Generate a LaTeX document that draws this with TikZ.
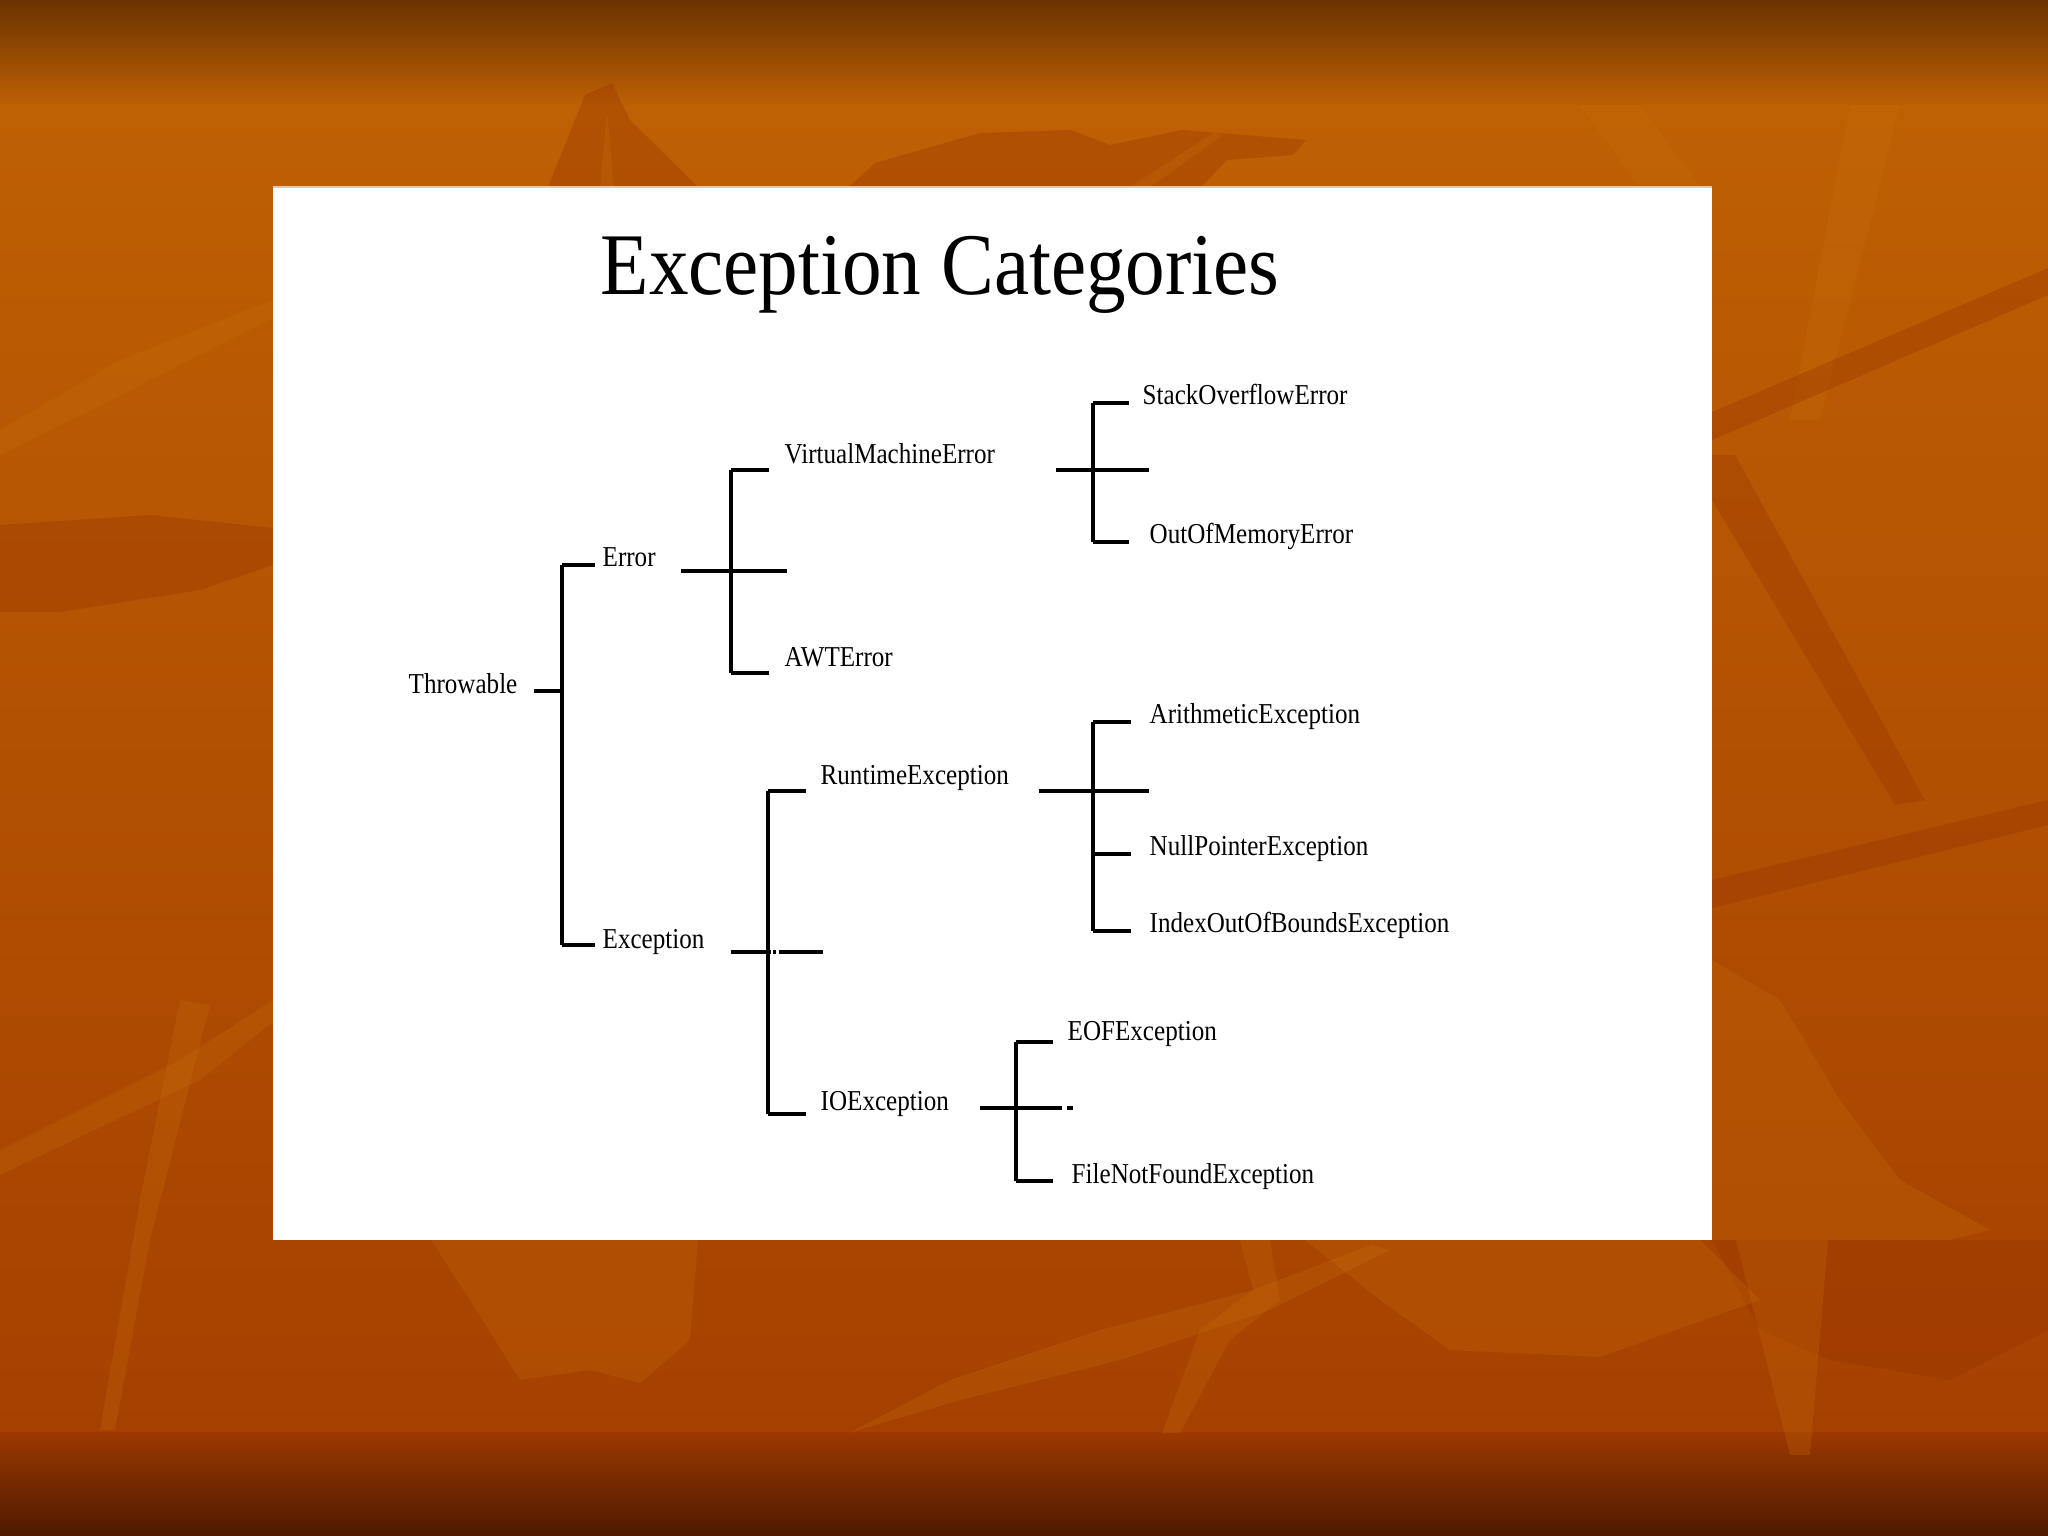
\documentclass[tikz,border=0pt]{standalone}
\usepackage{fontspec}
\setmainfont{Liberation Serif}
\definecolor{bgtop}{RGB}{106,52,0}
\definecolor{bgor}{RGB}{190,96,4}
\definecolor{bglow}{RGB}{166,64,0}
\definecolor{bgband}{RGB}{156,56,0}
\definecolor{bgbot}{RGB}{78,26,0}
\definecolor{leafdark}{RGB}{150,50,0}
\definecolor{leaflight}{RGB}{200,112,12}
\definecolor{panelrim}{RGB}{240,196,150}
\newcommand\sxlbl[1]{\scalebox{0.87}[1]{#1}}
\tikzset{
  ln/.style={line width=0.9pt, black},
  lbl/.style={anchor=base west, inner sep=0pt, font=\fontsize{8.2}{9}\selectfont},
  darkleaf/.style={fill=leafdark, fill opacity=0.32},
  lightleaf/.style={fill=leaflight, fill opacity=0.25}
}
\begin{document}
\begin{tikzpicture}[x=0.01cm, y=-0.01cm]
\useasboundingbox (0,0) rectangle (2048,1536);
% ---------- background ----------
\fill[top color=bgtop, bottom color=bgor] (0,0) rectangle (2048,106);
\fill[top color=bgor, bottom color=bglow] (0,105) rectangle (2048,1433);
\fill[top color=bgband, bottom color=bgbot] (0,1432) rectangle (2048,1536);
% leaves and branches (approximate)
\fill[darkleaf] (0,525) -- (150,515) -- (273,528) -- (273,565) -- (200,590) -- (60,612) -- (0,612) -- cycle;
\fill[lightleaf] (0,430) -- (120,360) -- (273,300) -- (273,318) -- (140,385) -- (0,455) -- cycle;
\fill[darkleaf] (548,187) -- (585,95) -- (612,83) -- (630,120) -- (698,187) -- cycle;
\fill[lightleaf] (600,187) -- (607,110) -- (614,187) -- cycle;
\fill[darkleaf] (849,187) -- (875,163) -- (980,133) -- (1071,130) -- (1110,145) -- (1182,130) -- (1306,140) -- (1293,155) -- (1227,160) -- (1201,187) -- cycle;
\fill[lightleaf] (1130,187) -- (1215,132) -- (1222,136) -- (1150,187) -- cycle;
\fill[lightleaf] (1580,105) -- (1640,105) -- (1700,187) -- (1640,187) -- cycle;
\fill[lightleaf] (1850,105) -- (1900,105) -- (1820,420) -- (1790,420) -- cycle;
\fill[darkleaf] (1712,455) -- (1735,455) -- (1925,800) -- (1895,805) -- (1712,500) -- cycle;
\fill[darkleaf] (1712,412) -- (2048,268) -- (2048,295) -- (1712,440) -- cycle;
\fill[darkleaf] (1712,880) -- (2048,800) -- (2048,825) -- (1712,908) -- cycle;
\fill[lightleaf] (1712,960) -- (1780,1000) -- (1840,1100) -- (1900,1180) -- (1990,1230) -- (1950,1240) -- (1712,1240) -- cycle;
\fill[darkleaf] (1712,1240) -- (2048,1240) -- (2048,1330) -- (1950,1380) -- (1830,1360) -- (1760,1330) -- cycle;
\fill[lightleaf] (0,1150) -- (180,1060) -- (273,1000) -- (273,1022) -- (200,1080) -- (0,1175) -- cycle;
\fill[lightleaf] (180,1000) -- (210,1005) -- (150,1240) -- (115,1430) -- (100,1430) -- (140,1200) -- cycle;
\fill[lightleaf] (431,1240) -- (698,1240) -- (690,1340) -- (640,1383) -- (590,1370) -- (520,1380) -- (470,1300) -- cycle;
\fill[lightleaf] (849,1433) -- (950,1380) -- (1100,1330) -- (1253,1290) -- (1371,1245) -- (1390,1250) -- (1270,1310) -- (1120,1360) -- (960,1400) -- cycle;
\fill[lightleaf] (1162,1433) -- (1200,1330) -- (1253,1290) -- (1240,1240) -- (1270,1240) -- (1280,1300) -- (1230,1340) -- (1180,1433) -- cycle;
\fill[lightleaf] (1305,1240) -- (1700,1240) -- (1760,1300) -- (1600,1357) -- (1450,1350) -- (1380,1300) -- cycle;
\fill[lightleaf] (1736,1240) -- (1828,1240) -- (1810,1455) -- (1790,1455) -- cycle;
% ---------- panel ----------
\fill[white] (273,187) rectangle (1712,1240);
\draw[panelrim, line width=0.6pt] (273,187) -- (1712,187);
% ---------- title ----------
\node[anchor=base west, inner sep=0pt, font=\fontsize{25}{28}\selectfont] (title) at (600,294) {\scalebox{0.9}[1]{Exception Categories}};
% ---------- labels ----------
\node[lbl] (throwable) at (408,693) {\sxlbl{Throwable}};
\node[lbl] (error) at (602,566) {\sxlbl{Error}};
\node[lbl] (exception) at (602,948) {\sxlbl{Exception}};
\node[lbl] (vme) at (784,463) {\sxlbl{VirtualMachineError}};
\node[lbl] (awt) at (784,666) {\sxlbl{AWTError}};
\node[lbl] (runtime) at (820,784) {\sxlbl{RuntimeException}};
\node[lbl] (ioex) at (820,1110) {\sxlbl{IOException}};
\node[lbl] (soe) at (1142,404) {\sxlbl{StackOverflowError}};
\node[lbl] (oom) at (1149,543) {\sxlbl{OutOfMemoryError}};
\node[lbl] (arith) at (1149,723) {\sxlbl{ArithmeticException}};
\node[lbl] (npe) at (1149,855) {\sxlbl{NullPointerException}};
\node[lbl] (ioobe) at (1149,932) {\sxlbl{IndexOutOfBoundsException}};
\node[lbl] (eof) at (1067,1040) {\sxlbl{EOFException}};
\node[lbl] (fnf) at (1071,1183) {\sxlbl{FileNotFoundException}};
% ---------- junction coordinates ----------
\coordinate (t0) at (534,691);   \coordinate (t1) at (562,691);
\coordinate (tTop) at (562,565); \coordinate (tBot) at (562,945);
\coordinate (eS) at (595,565);   \coordinate (xS) at (595,945);
\coordinate (er0) at (681,571);  \coordinate (er1) at (787,571);
\coordinate (erTop) at (731,470); \coordinate (erBot) at (731,673);
\coordinate (vmS) at (769,470);  \coordinate (awS) at (769,673);
\coordinate (vm0) at (1056,470); \coordinate (vm1) at (1149,470);
\coordinate (vmTop) at (1093,403); \coordinate (vmBot) at (1093,542);
\coordinate (soS) at (1129,403); \coordinate (ooS) at (1129,542);
\coordinate (ex0) at (731,952);  \coordinate (exA) at (771,952);
\coordinate (exD0) at (773,952); \coordinate (exD1) at (776,952);
\coordinate (exB) at (779,952);  \coordinate (ex1) at (823,952);
\coordinate (exTop) at (768,791); \coordinate (exBot) at (768,1114);
\coordinate (rtS) at (806,791);  \coordinate (ioS) at (806,1114);
\coordinate (rt0) at (1039,791); \coordinate (rt1) at (1149,791);
\coordinate (rtTop) at (1093,722); \coordinate (rtBot) at (1093,931);
\coordinate (npY) at (1093,854);
\coordinate (arS) at (1131,722); \coordinate (npS) at (1131,854); \coordinate (ixS) at (1131,931);
\coordinate (io0) at (980,1108); \coordinate (io1) at (1062,1108);
\coordinate (ioD0) at (1067,1108); \coordinate (ioD1) at (1073,1108);
\coordinate (ioTop) at (1016,1042); \coordinate (ioBot) at (1016,1181);
\coordinate (efS) at (1053,1042); \coordinate (fnS) at (1053,1181);
% ---------- connectors ----------
\draw[ln] (t0) -- (t1);
\draw[ln] (tTop) -- (tBot);
\draw[ln] (tTop) -- (eS);
\draw[ln] (tBot) -- (xS);
\draw[ln] (er0) -- (er1);
\draw[ln] (erTop) -- (erBot);
\draw[ln] (erTop) -- (vmS);
\draw[ln] (erBot) -- (awS);
\draw[ln] (vm0) -- (vm1);
\draw[ln] (vmTop) -- (vmBot);
\draw[ln] (vmTop) -- (soS);
\draw[ln] (vmBot) -- (ooS);
\draw[ln] (ex0) -- (exA);
\draw[ln] (exD0) -- (exD1);
\draw[ln] (exB) -- (ex1);
\draw[ln] (exTop) -- (exBot);
\draw[ln] (exTop) -- (rtS);
\draw[ln] (exBot) -- (ioS);
\draw[ln] (rt0) -- (rt1);
\draw[ln] (rtTop) -- (rtBot);
\draw[ln] (rtTop) -- (arS);
\draw[ln] (npY) -- (npS);
\draw[ln] (rtBot) -- (ixS);
\draw[ln] (io0) -- (io1);
\draw[ln] (ioD0) -- (ioD1);
\draw[ln] (ioTop) -- (ioBot);
\draw[ln] (ioTop) -- (efS);
\draw[ln] (ioBot) -- (fnS);
\end{tikzpicture}
\end{document}
